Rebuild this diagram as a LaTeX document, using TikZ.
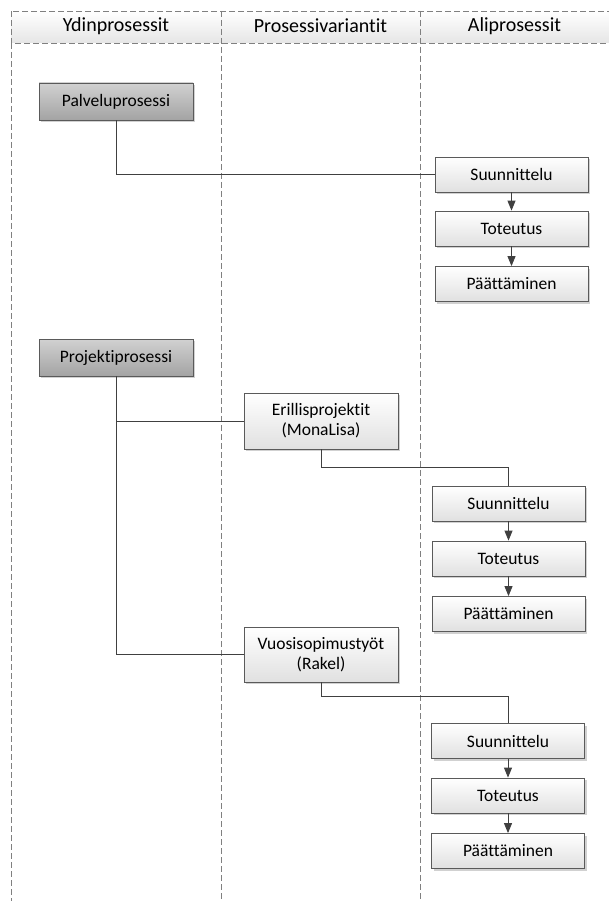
\documentclass[tikz,border=0pt]{standalone}
\usepackage{fontspec}
\setmainfont[Ligatures=NoCommon]{Carlito}
\usetikzlibrary{arrows.meta,shadows}
\definecolor{linegray}{HTML}{404040}
\definecolor{lanegray}{HTML}{808080}
\definecolor{boxedge}{HTML}{5A5A5A}
\begin{document}
\begin{tikzpicture}[x=1pt,y=-1pt,
  font=\fontsize{17.5}{20}\selectfont,
  lane/.style={draw=lanegray,line width=0.9pt,dash pattern=on 6pt off 3pt},
  lanetitle/.style={font=\fontsize{20}{22}\selectfont},
  procbox/.style={draw=boxedge,line width=0.8pt,minimum width=154pt,minimum height=36pt,
    inner sep=2pt,align=center,top color=white,bottom color=black!12,
    drop shadow={shadow xshift=2pt,shadow yshift=-2pt,fill=black!30,opacity=0.6}},
  corebox/.style={procbox,minimum height=37pt,top color=black!18,bottom color=black!36},
  stepbox/.style={procbox,minimum width=153pt,minimum height=35pt},
  link/.style={draw=linegray,line width=0.9pt},
  flow/.style={link,-{Triangle[length=10pt,width=8pt]}}]
\useasboundingbox (0,0) rectangle (609,901);
\clip (0,0) rectangle (609,901);

% swimlane header and lane separators
\path[lane,top color=white,bottom color=black!10] (11,11) rectangle (640,43);
\draw[lane] (11,43) -- (11,905);
\draw[lane] (221,11) -- (221,905);
\draw[lane] (420,11) -- (420,905);
\node[lanetitle] (h1) at (116,26) {Ydinprosessit};
\node[lanetitle] (h2) at (320.5,26) {Prosessivariantit};
\node[lanetitle] (h3) at (514.5,26) {Aliprosessit};

% core processes
\node[corebox] (pal) at (116,101.5) {Palveluprosessi};
\node[corebox] (proj) at (116,357.5) {Projektiprosessi};

% process variants
\node[procbox,minimum height=56pt] (eri) at (321,421) {Erillisprojektit\\(MonaLisa)};
\node[procbox,minimum height=55pt] (vuo) at (321,654.5) {Vuosisopimustyöt\\(Rakel)};

% sub-processes of the service process
\node[stepbox] (s1) at (511.5,174.5) {Suunnittelu};
\node[stepbox] (t1) at (511.5,228.5) {Toteutus};
\node[stepbox] (p1) at (511.5,284) {Päättäminen};

% sub-processes of the separate projects
\node[stepbox] (s2) at (508.5,503.5) {Suunnittelu};
\node[stepbox] (t2) at (508.5,558.5) {Toteutus};
\node[stepbox] (p2) at (508.5,614) {Päättäminen};

% sub-processes of the annual contract work
\node[stepbox] (s3) at (508,741) {Suunnittelu};
\node[stepbox] (t3) at (508,795.5) {Toteutus};
\node[stepbox] (p3) at (508,851) {Päättäminen};

% connectors
\draw[link] (pal.south) |- (s1.west);
\draw[link] (proj.south) |- (eri.west);
\draw[link] (proj.south) |- (vuo.west);
\draw[link] (eri.south) -- ++(0,18) -| (s2.north);
\draw[link] (vuo.south) -- ++(0,14) -| (s3.north);

\draw[flow] (s1) -- (t1);
\draw[flow] (t1) -- (p1);
\draw[flow] (s2) -- (t2);
\draw[flow] (t2) -- (p2);
\draw[flow] (s3) -- (t3);
\draw[flow] (t3) -- (p3);
\end{tikzpicture}
\end{document}
